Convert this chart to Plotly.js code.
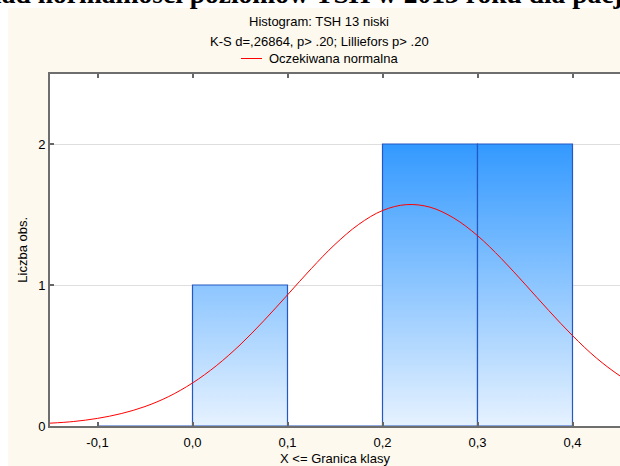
<!DOCTYPE html>
<html><head><meta charset="utf-8">
<script src="https://cdn.plot.ly/plotly-3.0.1.min.js"></script>
<style>html,body{margin:0;padding:0;background:#fff;overflow:hidden}#chart{width:620px;height:466px}</style>
</head><body><div id="chart"></div>
<script>
// ---- data ----
const binEdges = [-0.1, 0.0, 0.1, 0.2, 0.3, 0.4];
const binCounts = [0, 1, 0, 2, 2];
const curveX = [-0.15, -0.125, -0.1, -0.075, -0.05, -0.025, 0.0, 0.025, 0.05, 0.075, 0.1, 0.125, 0.15, 0.175, 0.2, 0.225, 0.25, 0.275, 0.3, 0.325, 0.35, 0.375, 0.4, 0.425, 0.45, 0.475];
const curveY = [0.02, 0.032, 0.054, 0.088, 0.138, 0.209, 0.305, 0.427, 0.575, 0.746, 0.93, 1.116, 1.288, 1.43, 1.528, 1.57, 1.552, 1.475, 1.35, 1.188, 1.006, 0.819, 0.641, 0.483, 0.355, 0.25];
const xTickVals = [-0.1, 0.0, 0.1, 0.2, 0.3, 0.4];
const xTickText = ['-0,1', '0,0', '0,1', '0,2', '0,3', '0,4'];
const yTickVals = [0, 1, 2];
const yTickText = ['0', '1', '2'];
const chartTitle = 'Rozkład normalności poziomów TSH w 2013 roku dla pacjentów';
const subTitle1 = 'Histogram: TSH 13 niski';
const subTitle2 = 'K-S d=,26864, p> .20; Lilliefors p> .20';
const legendLabel = 'Oczekiwana normalna';
const xTitle = 'X <= Granica klasy';
const yTitle = 'Liczba obs.';

// ---- geometry helpers (page pixels -> paper fractions, margins are 0) ----
const W = 620, H = 466;
const fx = px => px / W, fy = py => (H - py) / H;
const PL = 50, PR = 620, PT = 73.5, PB = 426;

const FONT = 'Liberation Sans, Arial, sans-serif';
const traces = [];
for (let i = 0; i < binCounts.length; i++) {
  const l = binEdges[i], r = binEdges[i + 1], c = binCounts[i];
  traces.push({
    type: 'scatter', mode: 'lines',
    x: [l, l, r, r, l], y: [0, c, c, 0, 0],
    fill: 'toself',
    fillgradient: { type: 'vertical', start: 0, stop: 2,
      colorscale: [[0, '#e6f2ff'], [1, '#3399ff']] },
    line: { color: '#2458c4', width: 1.2 },
    hoverinfo: 'skip', showlegend: false
  });
}
traces.push({
  type: 'scatter', mode: 'lines', x: curveX, y: curveY,
  line: { color: '#ff0000', width: 1, shape: 'spline' },
  showlegend: false, cliponaxis: true
});

const layout = {
  width: W, height: H,
  margin: { l: 0, r: 0, t: 0, b: 0 },
  paper_bgcolor: '#fdf9ef', plot_bgcolor: '#ffffff',
  showlegend: false,
  font: { family: FONT, size: 13, color: '#000' },
  xaxis: {
    domain: [fx(PL), fx(PR)], range: [-0.15, 0.45],
    tickvals: xTickVals, ticktext: xTickText,
    ticks: 'inside', ticklen: 4, tickwidth: 2, tickcolor: '#666',
    ticklabelstandoff: 3,
    showline: true, linecolor: '#6e6e6e', linewidth: 2, mirror: 'ticks',
    showgrid: false, zeroline: false,
    tickfont: { family: FONT, size: 13, color: '#000' },
    title: { text: xTitle, font: { family: FONT, size: 13, color: '#000' }, standoff: 12 }
  },
  yaxis: {
    domain: [fy(PB), fy(PT)], range: [0, 2.5],
    tickvals: yTickVals, ticktext: yTickText,
    ticks: 'inside', ticklen: 4, tickwidth: 2, tickcolor: '#666',
    showline: true, linecolor: '#6e6e6e', linewidth: 2,
    showgrid: true, gridcolor: '#dedede', gridwidth: 1, zeroline: false,
    tickfont: { family: FONT, size: 13, color: '#000' },
    title: { text: yTitle, font: { family: FONT, size: 13, color: '#000' }, standoff: 8 }
  },
  shapes: [
    { type: 'rect', xref: 'paper', yref: 'paper', x0: 0, x1: 1, y0: fy(8), y1: 1.01,
      fillcolor: '#ffffff', line: { width: 0 }, layer: 'below' },
    { type: 'rect', xref: 'paper', yref: 'paper', x0: -0.01, x1: fx(8), y0: -0.01, y1: 1.01,
      fillcolor: '#ffffff', line: { width: 0 }, layer: 'below' },
    { type: 'line', xref: 'paper', yref: 'paper', x0: fx(241), x1: fx(262), y0: fy(58.5), y1: fy(58.5),
      line: { color: '#ff0000', width: 1 } }
  ],
  annotations: [
    { text: chartTitle, xref: 'paper', yref: 'paper', x: fx(-69), y: fy(-7),
      xanchor: 'left', yanchor: 'middle', showarrow: false,
      font: { family: 'Liberation Serif, Times New Roman, serif', size: 27.5, color: '#000', weight: 'bold' } },
    { text: subTitle1, xref: 'paper', yref: 'paper', x: fx(319), y: fy(22),
      xanchor: 'center', yanchor: 'middle', showarrow: false, font: { family: FONT, size: 13, color: '#000' } },
    { text: subTitle2, xref: 'paper', yref: 'paper', x: fx(319.5), y: fy(41),
      xanchor: 'center', yanchor: 'middle', showarrow: false, font: { family: FONT, size: 13, color: '#000' } },
    { text: legendLabel, xref: 'paper', yref: 'paper', x: fx(267), y: fy(58.5),
      xanchor: 'left', yanchor: 'middle', showarrow: false, font: { family: FONT, size: 13, color: '#000' } }
  ]
};
Plotly.newPlot('chart', traces, layout, { displayModeBar: false, staticPlot: true });
</script>
</body></html>
